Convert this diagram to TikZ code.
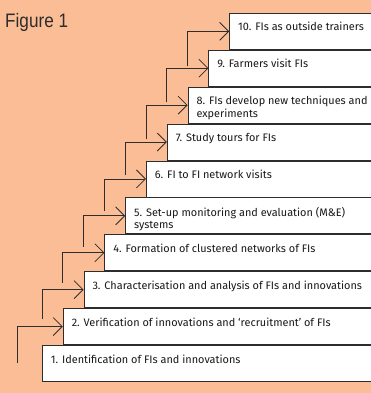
\documentclass[tikz,border=0pt]{standalone}
\usepackage{fontspec}
\setmainfont{Fira Sans}
\newfontfamily\titlefont[FakeStretch=0.88]{Liberation Sans}
\usepackage{tikz}
\usetikzlibrary{arrows.meta, positioning}

\definecolor{peach}{RGB}{250,189,149}
\definecolor{inkgray}{RGB}{45,45,45}

\tikzset{
  stepbox/.style={draw=inkgray, fill=white, line width=0.9pt, anchor=north west,
    inner sep=0pt, inner xsep=8.5pt, text=black!90, font=\fontsize{10.9}{12.3}\selectfont},
  steparrow/.style={draw=inkgray, line width=0.8pt, -{Straight Barb[length=9pt, width=18pt]}}
}
\newcommand{\steptext}[1]{\parbox[c][36pt][t]{330pt}{\vspace*{9pt}\raggedright\strut #1}}

\begin{document}
\begin{tikzpicture}[x=1pt, y=-1pt]
    \useasboundingbox (0,0) rectangle (371,393);
    \fill[peach] (0,0) rectangle (371,393);
    \clip (0,0) rectangle (371,393);

    \node[anchor=base west, inner sep=0pt, text=inkgray, font=\titlefont\fontsize{19.5}{20}\selectfont] (title) at (5,27.3) {Figure 1};

    % the staircase
    \node[stepbox] (s1) at (42,345) {\steptext{1. Identification of FIs and innovations}};
    \node[stepbox, above right=0pt and 20.8pt of s1.north west] (s2) {\steptext{2. Verification of innovations and ‘recruitment’ of FIs}};
    \node[stepbox, above right=0pt and 20.8pt of s2.north west] (s3) {\steptext{3. Characterisation and analysis of FIs and innovations}};
    \node[stepbox, above right=0pt and 20.8pt of s3.north west] (s4) {\steptext{4. Formation of clustered networks of FIs}};
    \node[stepbox, above right=0pt and 20.8pt of s4.north west] (s5) {\steptext{5. Set-up monitoring and evaluation (M\&E)\\systems}};
    \node[stepbox, above right=0pt and 20.8pt of s5.north west] (s6) {\steptext{6. FI to FI network visits}};
    \node[stepbox, above right=0pt and 20.8pt of s6.north west] (s7) {\steptext{7. Study tours for FIs}};
    \node[stepbox, above right=0pt and 20.8pt of s7.north west] (s8) {\steptext{8. FIs develop new techniques and\\experiments}};
    \node[stepbox, above right=0pt and 20.8pt of s8.north west] (s9) {\steptext{9. Farmers visit FIs}};
    \node[stepbox, above right=0pt and 20.8pt of s9.north west] (s10) {\steptext{10. FIs as outside trainers}};

    % arrows up the steps
    \coordinate (t2) at (17,363);
    \foreach \k in {3,...,10}
        \coordinate (t\k) at ({42+20.8*(\k-3)}, {66.5+36*(10-\k)});
    \foreach \k in {2,...,10}
        \draw[steparrow] (t\k) |- (s\k.west);
\end{tikzpicture}
\end{document}
